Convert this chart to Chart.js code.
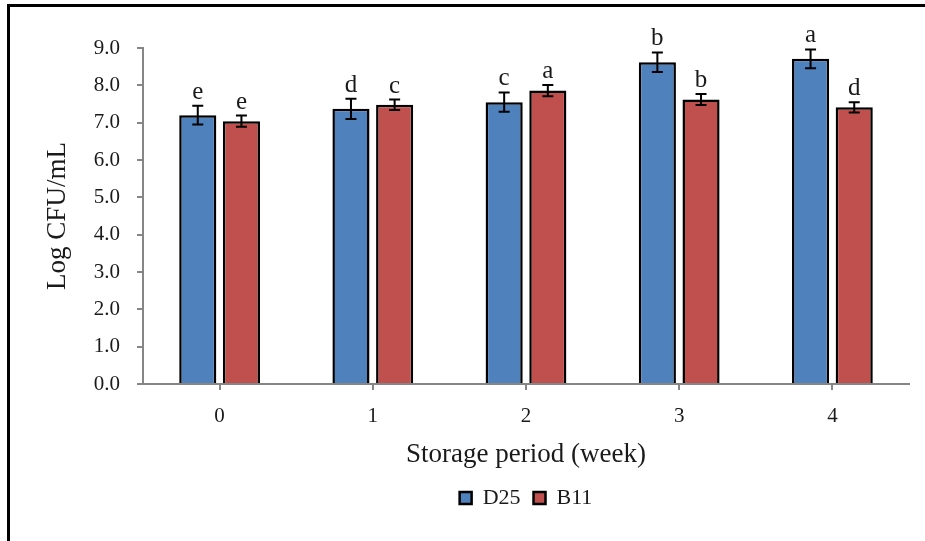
<!DOCTYPE html>
<html><head><meta charset="utf-8">
<script src="https://cdn.jsdelivr.net/npm/chart.js@4"></script>
<style>
html,body{margin:0;padding:0;background:#fff;}
#wrap{position:relative;width:925px;height:541px;overflow:hidden;}
#frame{position:absolute;left:7px;top:4px;right:-5px;bottom:-5px;border-left:3px solid #000;border-top:3px solid #000;pointer-events:none;}
canvas{display:block;}
</style></head><body>
<div id="wrap"><canvas id="c" width="925" height="541"></canvas><div id="frame"></div></div>
<script>
const categories = ['0', '1', '2', '3', '4'];
const seriesNames = ['D25', 'B11'];
const d25Values = [7.20, 7.37, 7.55, 8.62, 8.71];
const d25Errors = [0.25, 0.27, 0.26, 0.26, 0.25];
const d25Letters = ['e', 'd', 'c', 'b', 'a'];
const b11Values = [7.04, 7.48, 7.86, 7.62, 7.41];
const b11Errors = [0.15, 0.14, 0.15, 0.15, 0.14];
const b11Letters = ['e', 'c', 'a', 'b', 'd'];
const yMin = 0, yMax = 9, yStep = 1;

const FONT = "'Liberation Serif', 'Times New Roman', serif";
const TEXT = '#1a1a1a';
const AXIS = '#868686';

const errorBarPlugin = {
  id: 'errorBars',
  afterDatasetsDraw(chart) {
    const ctx = chart.ctx;
    const yScale = chart.scales.y;
    chart.data.datasets.forEach((ds, di) => {
      const meta = chart.getDatasetMeta(di);
      meta.data.forEach((bar, i) => {
        const v = ds.data[i], e = ds.errors[i];
        const x = bar.x;
        const yTop = yScale.getPixelForValue(v + e);
        const yBot = yScale.getPixelForValue(v - e);
        const cap = 5.5;
        ctx.save();
        ctx.strokeStyle = '#000';
        ctx.lineWidth = 2;
        ctx.beginPath();
        ctx.moveTo(x, yTop); ctx.lineTo(x, yBot);
        ctx.moveTo(x - cap, yTop); ctx.lineTo(x + cap, yTop);
        ctx.moveTo(x - cap, yBot); ctx.lineTo(x + cap, yBot);
        ctx.stroke();
        ctx.fillStyle = TEXT;
        ctx.font = '25px ' + FONT;
        ctx.textAlign = 'center';
        ctx.textBaseline = 'alphabetic';
        ctx.fillText(ds.letters[i], x, yTop - 7);
        ctx.restore();
      });
    });
  }
};

new Chart(document.getElementById('c'), {
  type: 'bar',
  data: {
    labels: categories,
    datasets: [
      { label: seriesNames[0], data: d25Values, errors: d25Errors, letters: d25Letters,
        backgroundColor: '#4F81BD', borderColor: '#000', borderWidth: 2.5,
        categoryPercentage: 0.57, barPercentage: 0.85 },
      { label: seriesNames[1], data: b11Values, errors: b11Errors, letters: b11Letters,
        backgroundColor: '#C0504D', borderColor: '#000', borderWidth: 2.5,
        categoryPercentage: 0.57, barPercentage: 0.85 }
    ]
  },
  options: {
    responsive: false,
    animation: false,
    devicePixelRatio: 1,
    layout: { padding: { left: 10, right: 16, top: 48, bottom: 22 } },
    plugins: {
      tooltip: { enabled: false },
      legend: {
        position: 'bottom',
        fullSize: false,
        labels: {
          boxWidth: 12, boxHeight: 12, padding: 13,
          color: TEXT, font: { family: FONT, size: 22 }
        }
      }
    },
    scales: {
      x: {
        offset: true,
        grid: { display: true, drawOnChartArea: false, drawTicks: true, tickLength: 6, color: AXIS, lineWidth: 2, offset: false },
        border: { display: true, color: AXIS, width: 2 },
        ticks: { color: TEXT, font: { family: FONT, size: 21 }, padding: 14 },
        title: { display: true, text: 'Storage period (week)', color: TEXT,
                 font: { family: FONT, size: 27 }, padding: { top: 0, bottom: 3 } },
        afterFit(scale) { scale.height = 90; }
      },
      y: {
        min: yMin, max: yMax,
        grid: { display: true, drawOnChartArea: false, drawTicks: true, tickLength: 6, color: AXIS, lineWidth: 2 },
        border: { display: true, color: AXIS, width: 2 },
        ticks: { stepSize: yStep, color: TEXT, font: { family: FONT, size: 21 }, padding: 17,
                 callback: (v) => Number(v).toFixed(1) },
        title: { display: true, text: 'Log CFU/mL', color: TEXT,
                 font: { family: FONT, size: 27 }, padding: { top: 32, bottom: 0 } },
        afterFit(scale) { scale.width = 133; }
      }
    }
  },
  plugins: [errorBarPlugin]
});
</script>
</body></html>
